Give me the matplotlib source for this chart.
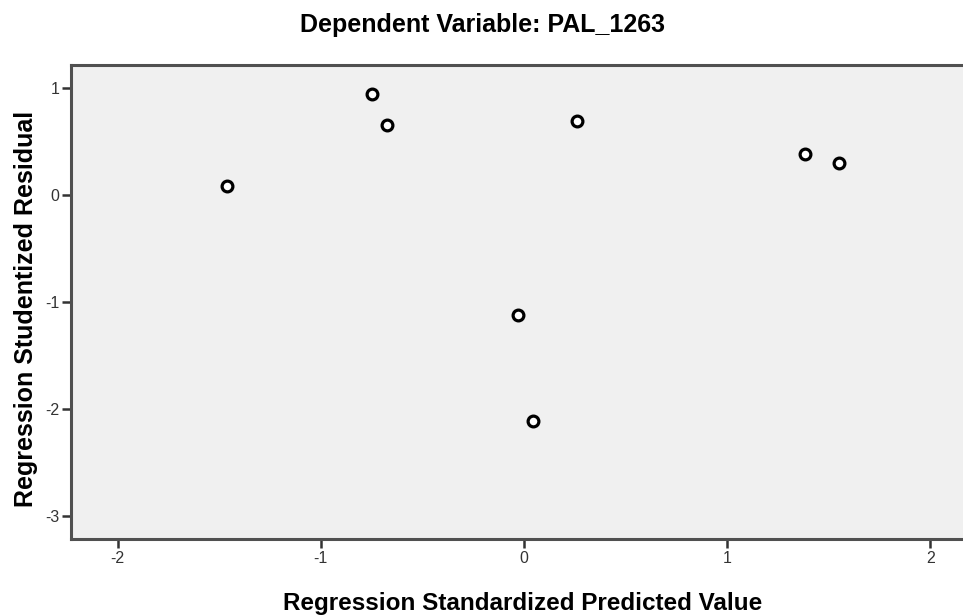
import matplotlib
matplotlib.use("Agg")
from matplotlib import pyplot as plt

# standardized predicted value vs studentized residual
pred = [-1.462, -0.749, -0.676, 0.263, 1.383, 1.550, -0.030, 0.043]
resid = [0.084, 0.944, 0.654, 0.692, 0.380, 0.296, -1.121, -2.112]

xticks = [-2, -1, 0, 1, 2]
yticks = [1, 0, -1, -2, -3]

plt.rcParams['font.family'] = ['Liberation Sans', 'DejaVu Sans']
plt.rcParams['axes.unicode_minus'] = False

fig = plt.figure(figsize=(9.63, 6.15), dpi=100)
ax = fig.add_axes([0.0737, 0.1236, 0.9263, 0.7707])
ax.set_facecolor('#f0f0f0')

ax.scatter(pred, resid, s=60, facecolors='white', edgecolors='black',
           linewidths=2.3, zorder=3)

ax.set_xlim(-2.229, 2.16)
ax.set_ylim(-3.215, 1.215)
ax.set_xticks(xticks)
ax.set_yticks(yticks)
ax.tick_params(direction='out', length=6.5, width=1.8, color='#333333',
               labelsize=11.5, labelcolor='#333333', pad=2)

for side in ['top', 'left', 'bottom']:
    ax.spines[side].set_linewidth(2.2)
    ax.spines[side].set_color('#505050')
ax.spines['right'].set_visible(False)

ax.set_xlabel("Regression Standardized Predicted Value", fontsize=17.5,
              fontweight='bold')
ax.xaxis.set_label_coords(0.506, -0.112)
ax.set_ylabel("Regression Studentized Residual", fontsize=18,
              fontweight='bold')
ax.yaxis.set_label_coords(-0.037, 0.485)
fig.text(0.501, 0.959, "Dependent Variable: PAL_1263", fontsize=18,
         fontweight='bold', ha='center', va='center')

fig.savefig("out.png", dpi=100)
